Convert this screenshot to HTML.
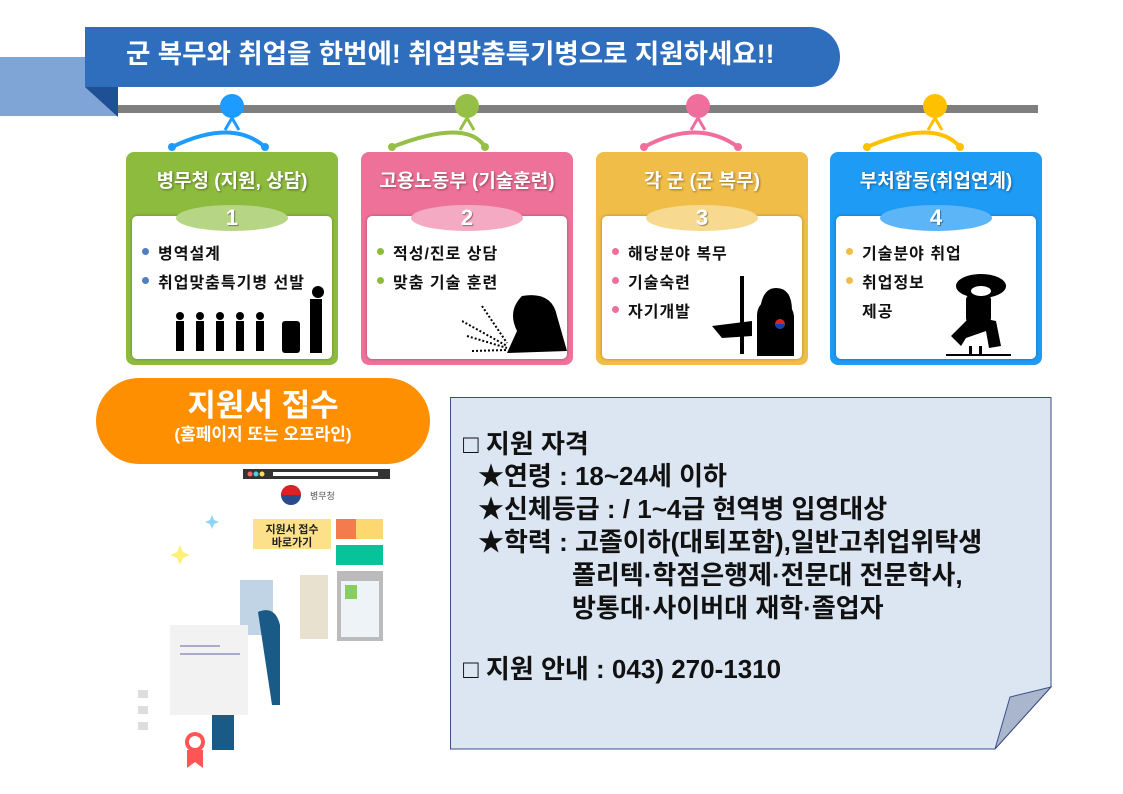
<!DOCTYPE html>
<html><head><meta charset="utf-8"><style>
*{margin:0;padding:0;box-sizing:border-box}
body{width:1123px;height:794px;background:#fff;position:relative;overflow:hidden;font-family:"Liberation Sans","Noto Sans CJK KR","NanumGothic",sans-serif}
.a{position:absolute}
.card{position:absolute;top:152px;width:212px;height:213px;border-radius:8px}
.card .t{position:absolute;top:14px;left:0;width:100%;text-align:center;color:#fff;font-size:19px;font-weight:bold;text-shadow:1px 1px 2px rgba(0,0,0,.4)}
.card .in{position:absolute;left:6px;right:6px;top:64px;bottom:6px;background:#fff;border-radius:5px;box-shadow:0 0 3px rgba(0,0,0,.3)}
.card .el{position:absolute;left:50px;width:112px;top:53px;height:26px;border-radius:50%;text-align:center;color:#fff;font-weight:bold;font-size:22px;line-height:26px;text-shadow:1px 1px 1px rgba(0,0,0,.4)}
.card ul{position:absolute;left:10px;top:24px;list-style:none;font-size:16px;font-weight:bold;line-height:29px;color:#111;letter-spacing:1px}
.card li:before{content:"";display:inline-block;width:7px;height:7px;border-radius:50%;background:var(--c);margin-right:9px;vertical-align:4px}
.info{font-size:26px;font-weight:bold;color:#111;line-height:33px;white-space:nowrap}
</style></head><body>
<div class="a" style="left:0;top:57px;width:118px;height:59px;background:#7fa5d6"></div>
<div class="a" style="left:85px;top:27px;width:755px;height:60px;background:#2f6dbd;border-radius:0 30px 30px 0"></div>
<svg class="a" style="left:85px;top:87px" width="33" height="30"><polygon points="0,0 33,0 33,30" fill="#1f4f95"/></svg>
<div class="a" style="left:126px;top:32px;color:#fff;font-size:26.5px;font-weight:bold;white-space:nowrap">군 복무와 취업을 한번에! 취업맞춤특기병으로 지원하세요!!</div>
<div class="a" style="left:118px;top:105px;width:920px;height:8px;background:#7f7f7f"></div>
<svg class="a" style="left:0;top:90px" width="1123" height="70">
<g fill="none" stroke-width="4">
<path d="M172,57 Q232,28 265,57" stroke="#1e9bff"/><path d="M225,40 L232,28 L239,40" stroke="#1e9bff" stroke-width="3"/>
<path d="M392,57 Q467,28 485,57" stroke="#96bf48"/><path d="M460,40 L467,28 L474,40" stroke="#96bf48" stroke-width="3"/>
<path d="M644,57 Q698,28 738,57" stroke="#f06e9c"/><path d="M691,40 L698,28 L705,40" stroke="#f06e9c" stroke-width="3"/>
<path d="M867,57 Q935,28 960,57" stroke="#ffc000"/><path d="M928,40 L935,28 L942,40" stroke="#ffc000" stroke-width="3"/>
</g>
<circle cx="232" cy="16" r="12" fill="#1e9bff"/><circle cx="172" cy="57" r="4" fill="#1e9bff"/><circle cx="265" cy="57" r="4" fill="#1e9bff"/>
<circle cx="467" cy="16" r="12" fill="#96bf48"/><circle cx="392" cy="57" r="4" fill="#96bf48"/><circle cx="485" cy="57" r="4" fill="#96bf48"/>
<circle cx="698" cy="16" r="12" fill="#f06e9c"/><circle cx="644" cy="57" r="4" fill="#f06e9c"/><circle cx="738" cy="57" r="4" fill="#f06e9c"/>
<circle cx="935" cy="16" r="12" fill="#ffc000"/><circle cx="867" cy="57" r="4" fill="#ffc000"/><circle cx="960" cy="57" r="4" fill="#ffc000"/>
</svg>
<div class="card" style="left:126px;background:#8dbb3e;--c:#4f7fc0"><div class="t">병무청 (지원, 상담)</div><div class="in"><ul><li>병역설계</li><li>취업맞춤특기병 선발</li></ul>
<svg class="a" style="left:40px;top:70px" width="160" height="70"><g fill="#000"><circle cx="8" cy="30" r="4"/><rect x="4" y="35" width="8" height="30"/><circle cx="28" cy="30" r="4"/><rect x="24" y="35" width="8" height="30"/><circle cx="48" cy="30" r="4"/><rect x="44" y="35" width="8" height="30"/><circle cx="68" cy="30" r="4"/><rect x="64" y="35" width="8" height="30"/><circle cx="88" cy="30" r="4"/><rect x="84" y="35" width="8" height="30"/><rect x="110" y="35" width="18" height="32" rx="3"/><circle cx="146" cy="6" r="6"/><rect x="138" y="13" width="12" height="54"/></g></svg></div><div class="el" style="background:#b7d685">1</div></div>
<div class="card" style="left:361px;background:#ee7199;--c:#8dbb3e"><div class="t">고용노동부 (기술훈련)</div><div class="in"><ul><li>적성/진로 상담</li><li>맞춤 기술 훈련</li></ul>
<svg class="a" style="left:95px;top:75px" width="105" height="62"><path d="M60,5 Q90,0 95,25 L105,60 L45,62 L55,40 Q45,20 60,5Z" fill="#000"/><g stroke="#000" stroke-width="2" stroke-dasharray="2 2"><line x1="0" y1="30" x2="45" y2="55"/><line x1="5" y1="45" x2="45" y2="57"/><line x1="10" y1="60" x2="45" y2="59"/><line x1="20" y1="15" x2="45" y2="52"/></g></svg></div><div class="el" style="background:#f5aac4">2</div></div>
<div class="card" style="left:596px;background:#f0be48;--c:#f06e9c"><div class="t">각 군 (군 복무)</div><div class="in"><ul><li>해당분야 복무</li><li>기술숙련</li><li>자기개발</li></ul>
<svg class="a" style="left:110px;top:60px" width="90" height="80"><rect x="28" y="0" width="4" height="78" fill="#000"/><path d="M0,50 L40,45 L40,60 L10,62Z" fill="#000"/><path d="M45,80 L45,40 Q45,25 62,22 Q80,25 82,40 L82,80Z" fill="#000"/><path d="M48,35 Q50,12 64,12 Q80,12 80,35Z" fill="#000"/><circle cx="68" cy="48" r="5" fill="#d22"/><path d="M63,48 a5,5 0 0 0 10,0" fill="#14a"/></svg></div><div class="el" style="background:#f8d990">3</div></div>
<div class="card" style="left:830px;background:#1e9bf5;--c:#f0be48"><div class="t">부처합동(취업연계)</div><div class="in"><ul><li>기술분야 취업</li><li>취업정보<br><span style="margin-left:16px">제공</span></li></ul>
<svg class="a" style="left:105px;top:50px" width="90" height="90"><g fill="#000"><ellipse cx="40" cy="20" rx="25" ry="12"/><rect x="25" y="28" width="25" height="30" rx="6"/><path d="M10,70 L30,50 L55,55 L60,80 L48,82 L45,65 L25,72 L20,80Z"/><rect x="5" y="88" width="65" height="2"/><rect x="28" y="80" width="3" height="8"/><rect x="38" y="80" width="3" height="8"/></g><ellipse cx="40" cy="25" rx="10" ry="5" fill="#fff"/></svg></div><div class="el" style="background:#5cb5f7">4</div></div>
<div class="a" style="left:96px;top:378px;width:334px;height:86px;background:#fe8f00;border-radius:43px;text-align:center;color:#fff;font-weight:bold">
<div style="font-size:31px;margin-top:10px;line-height:36px">지원서 접수</div><div style="font-size:17px;line-height:22px">(홈페이지 또는 오프라인)</div></div>
<svg class="a" style="left:130px;top:465px" width="260" height="305">
<rect x="113" y="4" width="147" height="10" fill="#333"/><rect x="143" y="7" width="105" height="4" fill="#fff"/><circle cx="120" cy="9" r="2.5" fill="#f66"/><circle cx="126" cy="9" r="2.5" fill="#5cd"/><circle cx="132" cy="9" r="2.5" fill="#fd5"/>
<circle cx="161" cy="30" r="10" fill="#2a4a8a"/><path d="M151,30 a10,10 0 0 1 20,0" fill="#d22"/><text x="180" y="34" font-size="9" fill="#555" font-family="Noto Sans CJK KR">병무청</text>
<rect x="123" y="54" width="78" height="30" fill="#fde18a"/><text x="162" y="68" font-size="11" font-weight="bold" text-anchor="middle" fill="#222" font-family="Noto Sans CJK KR">지원서 접수</text><text x="162" y="81" font-size="11" font-weight="bold" text-anchor="middle" fill="#222" font-family="Noto Sans CJK KR">바로가기</text>
<rect x="206" y="54" width="20" height="20" fill="#f47b4e"/><rect x="226" y="54" width="27" height="20" fill="#fdd870"/><rect x="206" y="80" width="47" height="20" fill="#06c39a"/>
<rect x="207" y="106" width="46" height="70" fill="#bbb"/><rect x="211" y="116" width="38" height="56" fill="#eef3f8"/><rect x="215" y="120" width="12" height="14" fill="#8c6"/>
<rect x="170" y="110" width="28" height="64" fill="#e8e1cf"/><rect x="110" y="115" width="33" height="55" fill="#c0d4e6"/>
<path d="M128,147 Q145,140 150,160 L150,240 L142,240Z" fill="#1a5a86"/><path d="M82,220 Q100,210 104,230 L104,285 L82,285Z" fill="#1a5a86"/>
<rect x="40" y="160" width="78" height="90" fill="#f2f2f2"/><rect x="50" y="180" width="40" height="2" fill="#aac"/><rect x="50" y="188" width="60" height="2" fill="#aac"/>
<path d="M50,80 L53,87 L60,90 L53,93 L50,100 L47,93 L40,90 L47,87Z" fill="#fef07a"/><path d="M82,50 L84,55 L89,57 L84,59 L82,64 L80,59 L75,57 L80,55Z" fill="#8ad4f5"/>
<rect x="8" y="225" width="10" height="8" fill="#ddd"/><rect x="8" y="241" width="10" height="8" fill="#ddd"/><rect x="8" y="257" width="10" height="8" fill="#ddd"/>
<circle cx="65" cy="277" r="10" fill="#f55"/><circle cx="65" cy="277" r="6" fill="#fff"/><path d="M57,285 L57,303 L65,297 L73,303 L73,285Z" fill="#f55"/>
</svg>
<svg class="a" style="left:450px;top:397px" width="602" height="353"><path d="M0.5,0.5 L601,0.5 L601,290 L545,352 L0.5,352Z" fill="#dce6f2" stroke="#3a4f86"/><path d="M545,352 L560,300 L601,290Z" fill="#a9b6cb" stroke="#3a4f86"/></svg>
<div class="a info" style="left:463px;top:428px">□ 지원 자격</div>
<div class="a info" style="left:478px;top:460px">★연령 : 18~24세 이하</div>
<div class="a info" style="left:478px;top:493px">★신체등급 : / 1~4급 현역병 입영대상</div>
<div class="a info" style="left:478px;top:526px">★학력 : 고졸이하(대퇴포함),일반고취업위탁생</div>
<div class="a info" style="left:572px;top:559px">폴리텍·학점은행제·전문대 전문학사,</div>
<div class="a info" style="left:572px;top:592px">방통대·사이버대 재학·졸업자</div>
<div class="a info" style="left:463px;top:653px">□ 지원 안내 : 043) 270-1310</div>
</body></html>
